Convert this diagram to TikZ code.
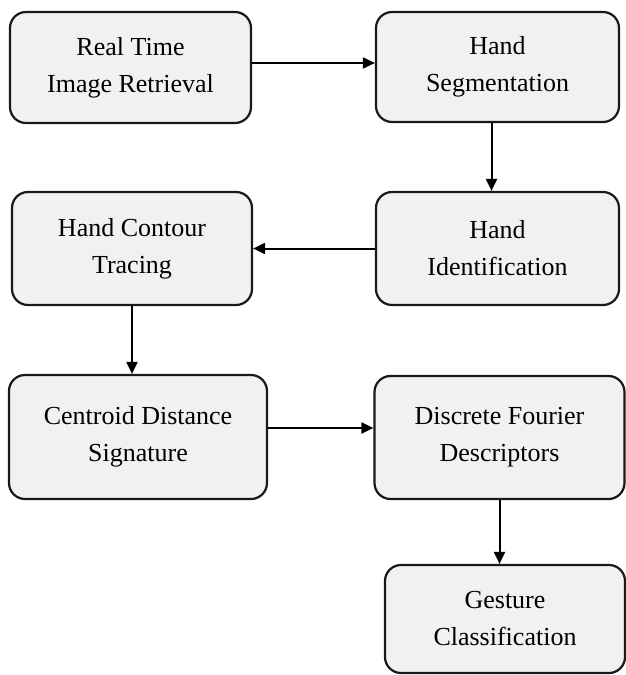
\documentclass[tikz,border=0pt]{standalone}
\usepackage{fontspec}
\setmainfont{Liberation Serif}
\usetikzlibrary{arrows.meta}

\definecolor{box fill}{RGB}{241,241,241}
\definecolor{box line}{RGB}{25,25,25}

\begin{document}
\begin{tikzpicture}[x=1pt, y=-1pt, line width=2.2pt,
	font=\fontsize{26}{37}\selectfont,
	stage/.style={draw=box line, fill=box fill, rounded corners=16pt, align=center, inner sep=0pt},
	flow/.style={-{Triangle[length=12pt, width=11pt]}, line width=2pt}]
	\useasboundingbox (0,0) rectangle (626,675);

	% the stages
	\node (retrieval) at (130.5, 67.5) [stage, minimum width=241, minimum height=111] {Real Time\\Image Retrieval};
	\node (segment) at (497.5, 67) [stage, minimum width=243, minimum height=110] {Hand\\Segmentation};
	\node (contour) at (132, 248.5) [stage, minimum width=240, minimum height=113] {Hand Contour\\Tracing};
	\node (ident) at (497.5, 248.5) [stage, minimum width=243, minimum height=113] {Hand\\Identification};
	\node (centroid) at (138, 437) [stage, minimum width=258, minimum height=124] {Centroid Distance\\Signature};
	\node (fourier) at (499.5, 437.5) [stage, minimum width=250, minimum height=123] {Discrete Fourier\\Descriptors};
	\node (gesture) at (505, 619) [stage, minimum width=240, minimum height=108] {Gesture\\Classification};

	% the connectors
	\draw [flow] ([yshift=4.5pt]retrieval.east) -- ([yshift=4.5pt]retrieval.east -| segment.west);
	\draw [flow] ([xshift=-6pt]segment.south) -- ([xshift=-6pt]segment.south |- ident.north);
	\draw [flow] (ident.west) -- (ident.west -| contour.east);
	\draw [flow] (contour.south) -- (contour.south |- centroid.north);
	\draw [flow] ([yshift=9pt]centroid.east) -- ([yshift=9pt]centroid.east -| fourier.west);
	\draw [flow] (fourier.south) -- (fourier.south |- gesture.north);
\end{tikzpicture}
\end{document}
